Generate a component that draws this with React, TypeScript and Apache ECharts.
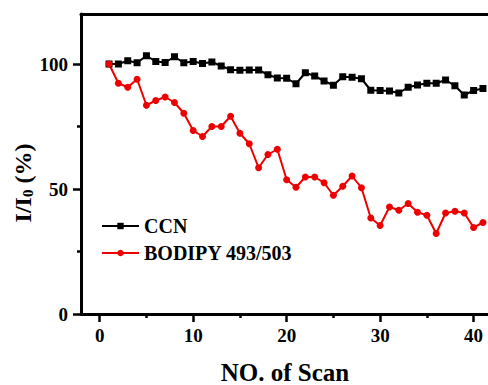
import React, { useEffect, useRef } from 'react';
import * as echarts from 'echarts';

const scans = [1, 2, 3, 4, 5, 6, 7, 8, 9, 10, 11, 12, 13, 14, 15, 16, 17, 18, 19, 20, 21, 22, 23, 24, 25, 26, 27, 28, 29, 30, 31, 32, 33, 34, 35, 36, 37, 38, 39, 40, 41];

const ccn = [100, 100, 101.3, 100.5, 103.3, 101, 100.6, 102.9, 100.5, 101, 100.2, 100.8, 99.2, 97.7, 97.5, 97.6, 97.6, 95.7, 94.4, 94.3, 92.1, 96.5, 95.2, 93.2, 91.5, 94.9, 94.7, 94.1, 89.5, 89.4, 89.2, 88.4, 90.7, 91.6, 92.3, 92.3, 93.6, 91.3, 87.6, 89.4, 90.2];

const bodipy = [100, 92.3, 90.7, 93.9, 83.5, 85.4, 86.8, 84.6, 80.3, 73.4, 71.0, 75.0, 75.0, 79.1, 72.3, 68.1, 58.5, 63.8, 65.9, 53.7, 50.7, 54.8, 54.8, 52.5, 47.5, 51.1, 55.2, 50.5, 38.4, 35.4, 42.8, 41.5, 44.2, 40.7, 39.5, 32.2, 40.4, 41.1, 40.4, 34.6, 36.6];

const xMajor = [0, 10, 20, 30, 40];
const xMinor = [5, 15, 25, 35];
const yMajor = [0, 50, 100];
const yMinor = [25, 75];

const FONT = '"Liberation Serif", "Times New Roman", serif';
const RED = '#ee0000';

export default function App() {
  const ref = useRef<HTMLDivElement>(null);
  useEffect(() => {
    if (!ref.current) return;
    const chart = echarts.init(ref.current, null, { renderer: 'svg' });
    const axisLine = { show: true, onZero: false, lineStyle: { color: '#000', width: 3 } };
    const tickStyle = { color: '#000', width: 2.5 };
    const labelStyle = { color: '#000', fontSize: 19, fontWeight: 'bold', fontFamily: FONT };
    const xBase = { type: 'value', min: -2, max: 44, splitLine: { show: false } };
    const yBase = { type: 'value', min: 0, max: 120, splitLine: { show: false } };
    chart.setOption({
      animation: false,
      grid: { left: 81, top: 14, bottom: 71, right: -23, containLabel: false, outerBoundsMode: 'none' },
      legend: {
        orient: 'vertical',
        left: 96,
        top: 211,
        padding: 5,
        itemWidth: 37,
        itemHeight: 8,
        itemGap: 7,
        textStyle: { color: '#000', fontSize: 20, fontWeight: 'bold', fontFamily: FONT },
        data: ['CCN', 'BODIPY 493/503'],
      },
      xAxis: [
        {
          ...xBase,
          position: 'bottom',
          axisLine,
          axisTick: { show: true, inside: false, length: 8, lineStyle: tickStyle, customValues: xMajor },
          axisLabel: { ...labelStyle, margin: 12, customValues: xMajor },
        },
        {
          ...xBase,
          position: 'bottom',
          axisLine: { show: false, onZero: false },
          axisTick: { show: true, inside: false, length: 4, lineStyle: tickStyle, customValues: xMinor },
          axisLabel: { show: false },
        },
        {
          ...xBase,
          position: 'top',
          axisLine,
          axisTick: { show: false },
          axisLabel: { show: false },
        },
      ],
      yAxis: [
        {
          ...yBase,
          position: 'left',
          axisLine,
          axisTick: { show: true, inside: false, length: 8, lineStyle: tickStyle, customValues: yMajor },
          axisLabel: { ...labelStyle, margin: 13, customValues: yMajor },
        },
        {
          ...yBase,
          position: 'left',
          axisLine: { show: false, onZero: false },
          axisTick: { show: true, inside: false, length: 4, lineStyle: tickStyle, customValues: yMinor },
          axisLabel: { show: false },
        },
      ],
      graphic: [
        {
          type: 'text',
          x: 285,
          y: 372,
          style: {
            text: 'NO. of Scan',
            fontSize: 25,
            fontWeight: 'bold',
            fontFamily: FONT,
            fill: '#000',
            align: 'center',
            verticalAlign: 'middle',
          },
        },
        {
          type: 'text',
          x: 23,
          y: 183,
          rotation: Math.PI / 2,
          style: {
            text: 'I/I{s|0} (%)',
            fontSize: 24,
            fontWeight: 'bold',
            fontFamily: FONT,
            fill: '#000',
            align: 'center',
            verticalAlign: 'middle',
            rich: {
              s: {
                fontSize: 15,
                fontWeight: 'bold',
                fontFamily: FONT,
                fill: '#000',
                verticalAlign: 'bottom',
                padding: [10, 0, 0, 0],
              },
            },
          },
        },
      ],
      series: [
        {
          name: 'CCN',
          type: 'line',
          xAxisIndex: 0,
          yAxisIndex: 0,
          data: scans.map((s, i) => [s, ccn[i]]),
          symbol: 'rect',
          symbolSize: 7,
          itemStyle: { color: '#000' },
          lineStyle: { color: '#000', width: 2 },
        },
        {
          name: 'BODIPY 493/503',
          type: 'line',
          xAxisIndex: 0,
          yAxisIndex: 0,
          data: scans.map((s, i) => [s, bodipy[i]]),
          symbol: 'circle',
          symbolSize: 7,
          itemStyle: { color: RED },
          lineStyle: { color: RED, width: 2 },
        },
      ],
    });
    return () => chart.dispose();
  }, []);
  return <div ref={ref} style={{ position: 'absolute', left: 0, top: 0, width: 488, height: 385 }} />;
}
